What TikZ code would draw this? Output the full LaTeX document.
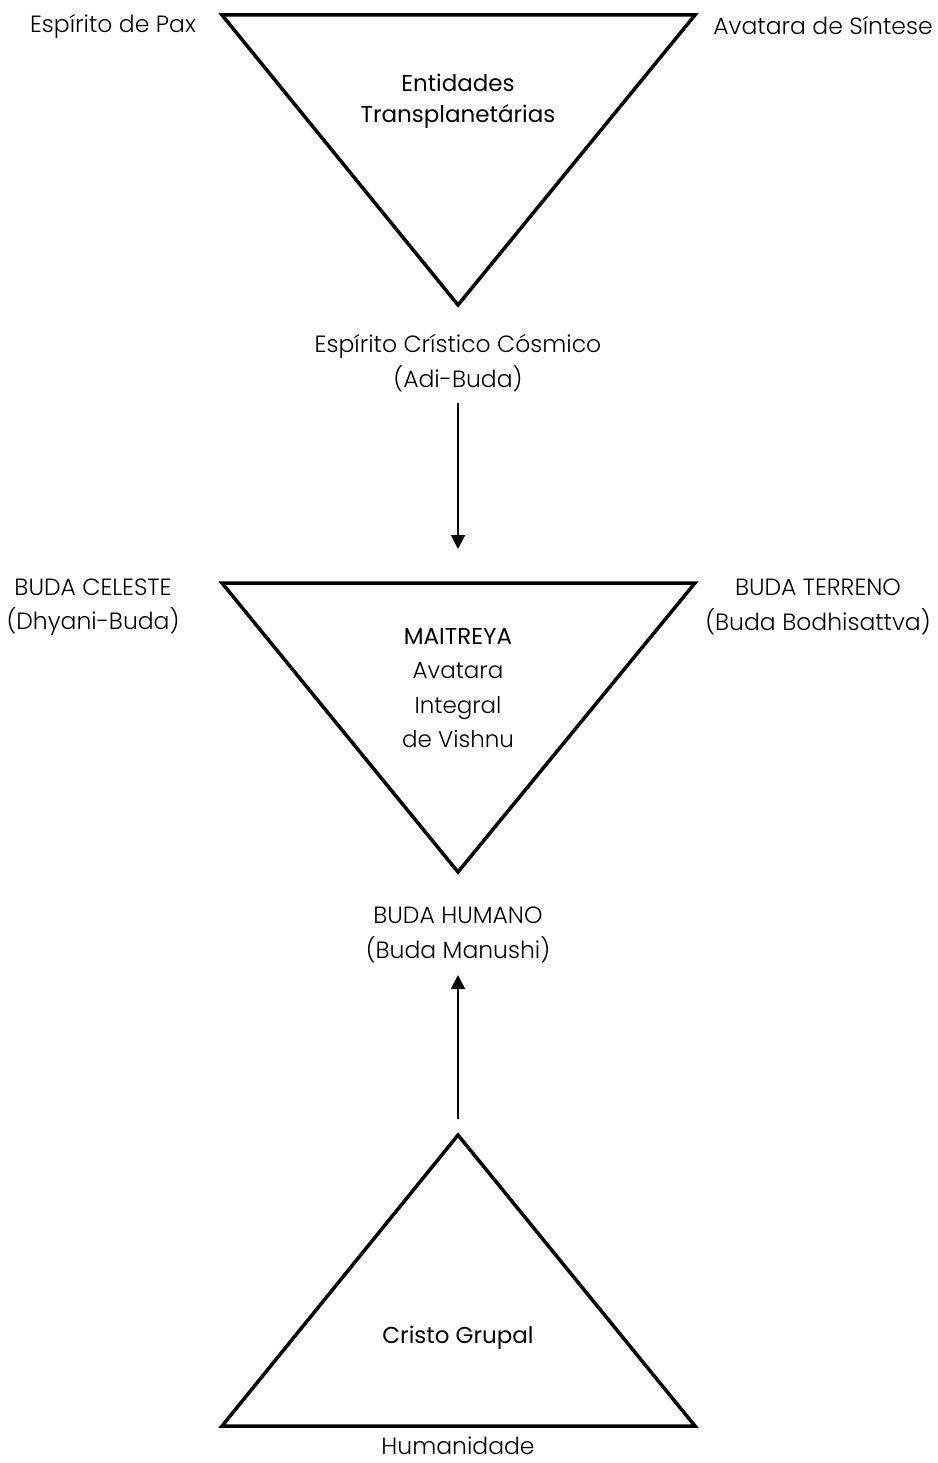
\documentclass[tikz,border=0pt]{standalone}
\usepackage{fontspec}
\setmainfont{Poppins}
\newfontfamily\lightf{Poppins Light}
\usetikzlibrary{arrows.meta}
\begin{document}
\begin{tikzpicture}[x=1pt,y=-1pt,
  tri/.style={draw=black,line width=3.5pt,line join=miter},
  lbl/.style={font=\lightf\fontsize{23.5}{34.5}\selectfont,align=center,inner sep=0pt},
  mid/.style={font=\fontsize{23}{31}\selectfont,align=center,inner sep=0pt},
  conn/.style={line width=2pt,-{Triangle[width=14pt,length=14pt]}}]
\useasboundingbox (0,0) rectangle (937,1463);
% triangles
\draw[tri] (222,15) -- (695,15) -- (458,305) -- cycle;
\draw[tri] (222,583) -- (695,583) -- (458,872) -- cycle;
\draw[tri] (458,1135) -- (695,1426) -- (222,1426) -- cycle;
% labels top
\node[lbl] (pax) at (113,26) {Espírito de Pax};
\node[lbl] (sint) at (823,26) {Avatara de Síntese};
\node[mid] (ent) at (458,101) {Entidades\\Transplanetárias};
\node[lbl] (cris) at (458,363) {Espírito Crístico Cósmico\\(Adi-Buda)};
\coordinate (a1s) at (458,403);
\coordinate (a1e) at (458,549);
\draw[conn] (a1s) -- (a1e);
% middle
\node[lbl] (cel) at (93,607) {BUDA CELESTE\\(Dhyani-Buda)};
\node[lbl] (ter) at (818,607) {BUDA TERRENO\\(Buda Bodhisattva)};
\node[font=\fontsize{23}{34.5}\selectfont,align=center,inner sep=0pt] (mai) at (458,688)
  {MAITREYA\\{\lightf Avatara}\\{\lightf Integral}\\{\lightf de Vishnu}};
\node[lbl] (hum) at (458,935) {BUDA HUMANO\\(Buda Manushi)};
\coordinate (a2s) at (458,1119);
\coordinate (a2e) at (458,975);
\draw[conn] (a2s) -- (a2e);
% bottom
\node[mid] (grp) at (458,1338) {Cristo Grupal};
\node[lbl] (hmd) at (458,1446) {Humanidade};
\end{tikzpicture}
\end{document}
